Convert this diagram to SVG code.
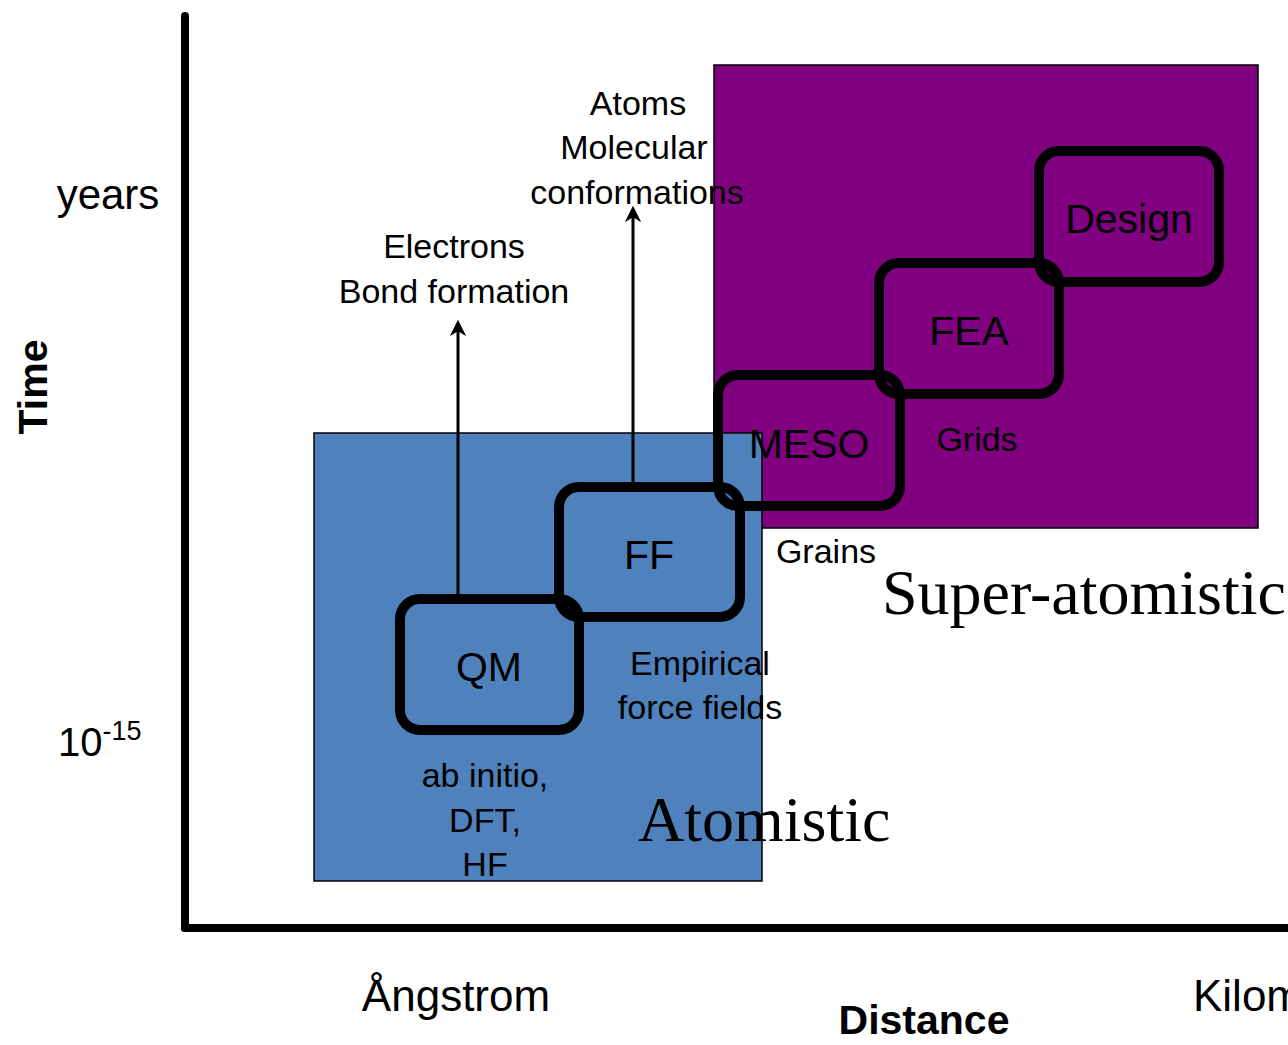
<svg xmlns="http://www.w3.org/2000/svg" width="1288" height="1045" viewBox="0 0 1288 1045">
<defs>
<style>
.t{font-family:"Liberation Sans",Arial,sans-serif;fill:#000;text-anchor:middle}
.s{font-size:34px}
.b{font-size:41px}
.tm{font-family:"Liberation Serif","Times New Roman",serif;font-size:64px;fill:#000}
.box{fill:none;stroke:#000;stroke-width:10}
.ax{stroke:#000;stroke-width:8;stroke-linecap:round;fill:none}
.arr{stroke:#000;stroke-width:3;fill:none;marker-end:url(#ah)}
</style>
<marker id="ah" viewBox="0 0 10 10" refX="8" refY="5" markerWidth="5.5" markerHeight="5.5" orient="auto" markerUnits="strokeWidth">
<path d="M0,0 L10,5 L0,10 L3,5 z" fill="#000"/>
</marker>
</defs>
<rect width="1288" height="1045" fill="#fff"/>
<g id="superatomistic-region">
<rect x="714" y="65" width="544" height="463" fill="#800080" stroke="#000" stroke-width="1.5"/>
</g>
<g id="atomistic-region">
<rect x="314" y="433" width="448" height="448" fill="#4F81BD" stroke="#000" stroke-width="1.5"/>
</g>
<g id="axes">
<line class="ax" x1="185" y1="16" x2="185" y2="928"/>
<line class="ax" x1="185" y1="928" x2="1300" y2="928"/>
</g>
<g id="connectors">
<line class="arr" x1="458" y1="596" x2="458" y2="323"/>
<line class="arr" x1="633" y1="484" x2="633" y2="209"/>
</g>
<g id="qm"><rect class="box" x="400" y="599" width="179" height="131" rx="20"/><text class="t b" x="489" y="681">QM</text></g>
<g id="ff"><rect class="box" x="559" y="487" width="181" height="130" rx="20"/><text class="t b" x="649" y="569">FF</text></g>
<g id="meso"><rect class="box" x="718" y="375" width="182" height="131" rx="20"/><text class="t b" x="809" y="458">MESO</text></g>
<g id="fea"><rect class="box" x="879" y="263" width="180" height="131" rx="20"/><text class="t b" x="969" y="345">FEA</text></g>
<g id="design"><rect class="box" x="1039" y="151" width="180" height="131" rx="20"/><text class="t b" x="1129" y="233">Design</text></g>
<g id="labels">
<text class="t s" x="454" y="258">Electrons</text>
<text class="t s" x="454" y="303">Bond formation</text>
<text class="t s" x="638" y="115">Atoms</text>
<text class="t s" x="634" y="159">Molecular</text>
<text class="t s" x="637" y="204">conformations</text>
<text class="t s" x="977" y="451">Grids</text>
<text class="t s" x="826" y="563">Grains</text>
<text class="t s" x="700" y="675">Empirical</text>
<text class="t s" x="700" y="719">force fields</text>
<text class="t s" x="485" y="787">ab initio,</text>
<text class="t s" x="485" y="832">DFT,</text>
<text class="t s" x="485" y="876">HF</text>
<text class="tm" x="638" y="841">Atomistic</text>
<text class="tm" x="882" y="614">Super-atomistic</text>
<text class="t" x="108" y="209" style="font-size:42px">years</text>
<text class="t" x="58" y="756" style="font-size:40px;text-anchor:start">10<tspan dy="-16" style="font-size:27px">-15</tspan></text>
<text class="t" x="456" y="1011" style="font-size:44px">Ångstrom</text>
<text class="t" x="1193" y="1011" style="font-size:44px;text-anchor:start">Kilometer</text>
<text class="t" x="924" y="1034" style="font-size:41px;font-weight:bold">Distance</text>
<text class="t" transform="translate(47,387) rotate(-90)" style="font-size:41px;font-weight:bold">Time</text>
</g>
</svg>
